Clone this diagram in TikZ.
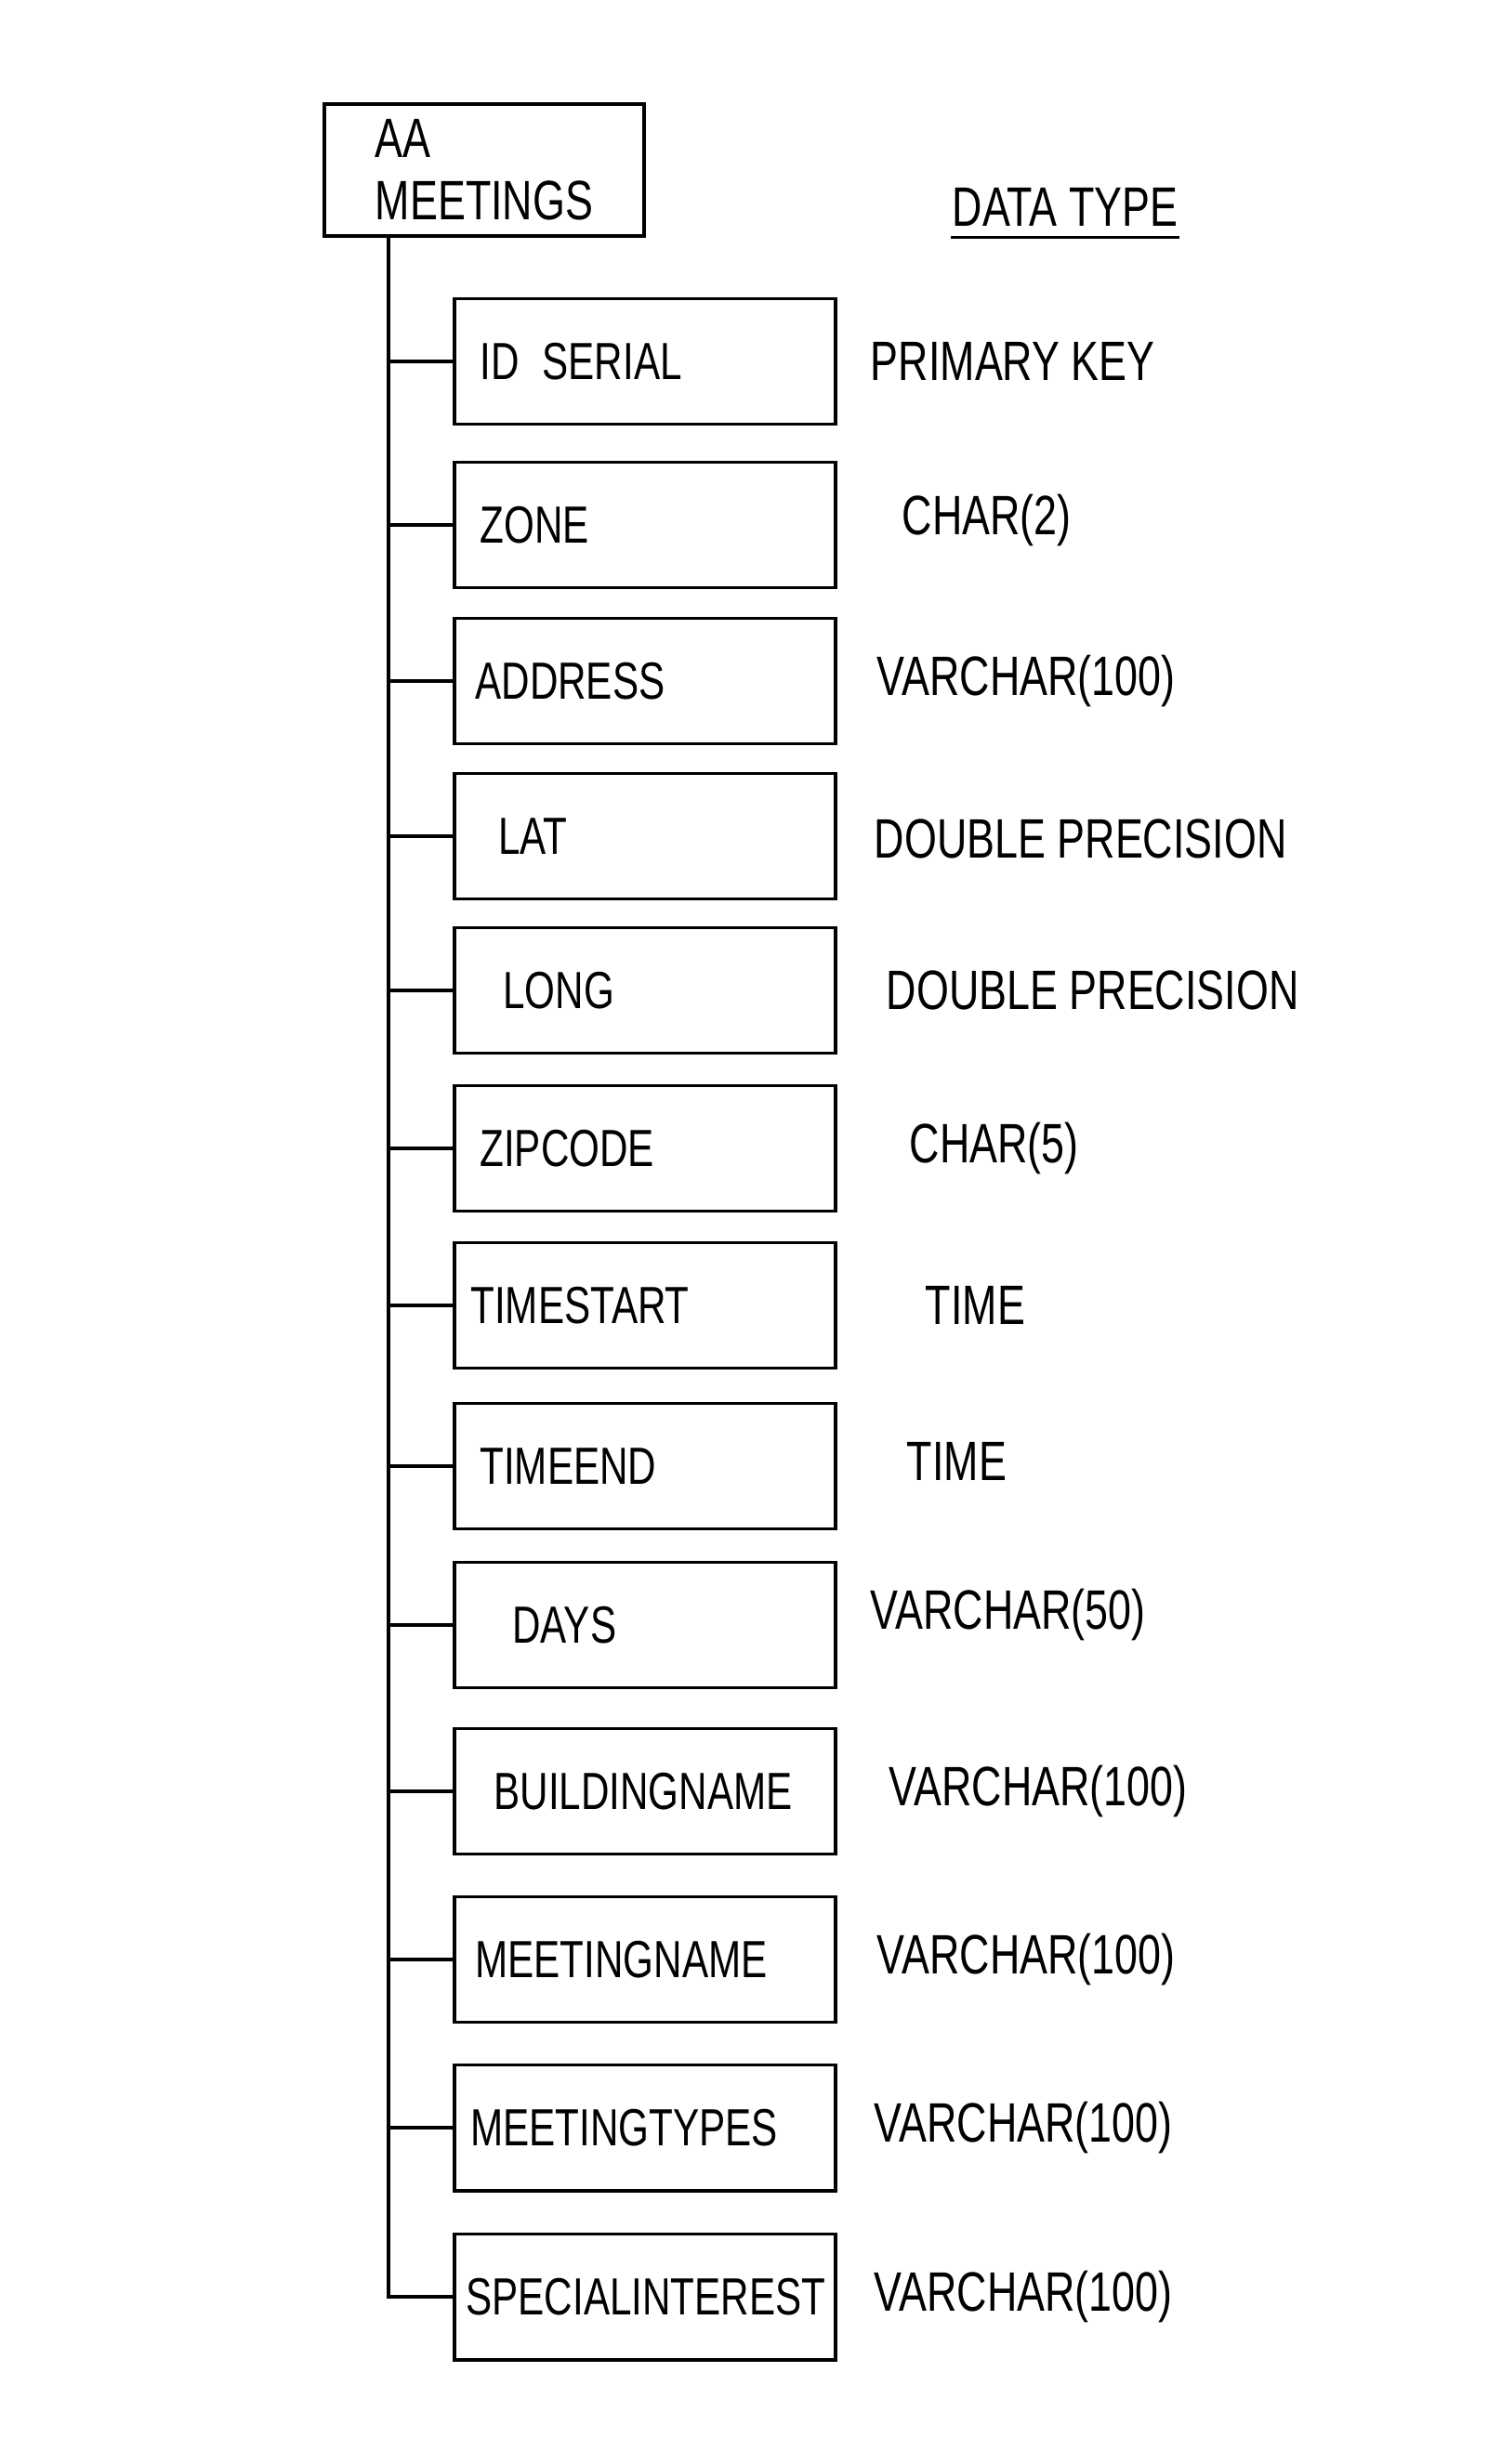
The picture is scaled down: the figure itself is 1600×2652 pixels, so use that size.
\documentclass[tikz,border=0pt]{standalone}
\usepackage{fontspec}
\setmainfont{Liberation Sans}[FakeStretch=0.75]
\begin{document}
\begin{tikzpicture}[x=0.01cm, y=-0.01cm, line width=1.1pt,
    fieldbox/.style={draw, text width=3.85cm, inner xsep=0.12cm, minimum height=1.35cm, align=left, font=\fontsize{16}{19}\selectfont},
    rootbox/.style={draw, minimum width=3.43cm, minimum height=1.42cm, align=left, font=\fontsize{17}{19}\selectfont},
    typelabel/.style={anchor=west, inner sep=0pt, font=\fontsize{17}{20}\selectfont}]
    \useasboundingbox (0,0) rectangle (1600,2652);
    \node[rootbox] (aa) at (521,183) {AA\\MEETINGS};
    \node[typelabel] (dt) at (1023,223) {DATA TYPE};
    \draw ([yshift=-0.1cm]dt.south west) -- ([yshift=-0.1cm]dt.south east);
    \node[fieldbox] (id) at (694,389) {\hspace{0.15cm}ID\hspace{0.25cm}SERIAL};
    \node[fieldbox] (zone) at (694,565) {\hspace{0.15cm}ZONE};
    \node[fieldbox] (address) at (694,733) {\hspace{0.1cm}ADDRESS};
    \node[fieldbox] (lat) at (694,900) {\hspace{0.35cm}LAT};
    \node[fieldbox] (long) at (694,1066) {\hspace{0.4cm}LONG};
    \node[fieldbox] (zip) at (694,1236) {\hspace{0.15cm}ZIPCODE};
    \node[fieldbox] (tstart) at (694,1405) {\hspace{0.05cm}TIMESTART};
    \node[fieldbox] (tend) at (694,1578) {\hspace{0.15cm}TIMEEND};
    \node[fieldbox] (days) at (694,1749) {\hspace{0.5cm}DAYS};
    \node[fieldbox] (bname) at (694,1928) {\hspace{0.3cm}BUILDINGNAME};
    \node[fieldbox] (mname) at (694,2109) {\hspace{0.1cm}MEETINGNAME};
    \node[fieldbox] (mtypes) at (694,2290) {\hspace{0.05cm}MEETINGTYPES};
    \node[fieldbox] (special) at (694,2472) {SPECIALINTEREST};
    \node[typelabel] (id_t) at (935,389) {PRIMARY KEY};
    \node[typelabel] (zone_t) at (969,560) {CHAR(2)};
    \node[typelabel] (address_t) at (942,733) {VARCHAR(100)};
    \node[typelabel] (lat_t) at (939,903) {DOUBLE PRECISION};
    \node[typelabel] (long_t) at (952,1066) {DOUBLE PRECISION};
    \node[typelabel] (zip_t) at (977,1236) {CHAR(5)};
    \node[typelabel] (tstart_t) at (994,1405) {TIME};
    \node[typelabel] (tend_t) at (974,1573) {TIME};
    \node[typelabel] (days_t) at (935,1738) {VARCHAR(50)};
    \node[typelabel] (bname_t) at (955,1928) {VARCHAR(100)};
    \node[typelabel] (mname_t) at (942,2109) {VARCHAR(100)};
    \node[typelabel] (mtypes_t) at (939,2290) {VARCHAR(100)};
    \node[typelabel] (special_t) at (939,2472) {VARCHAR(100)};
    \coordinate (trunk) at ([xshift=-1.03cm]aa.south);
    \draw (trunk) |- (special.west);
    \draw (trunk |- id.west) -- (id.west);
    \draw (trunk |- zone.west) -- (zone.west);
    \draw (trunk |- address.west) -- (address.west);
    \draw (trunk |- lat.west) -- (lat.west);
    \draw (trunk |- long.west) -- (long.west);
    \draw (trunk |- zip.west) -- (zip.west);
    \draw (trunk |- tstart.west) -- (tstart.west);
    \draw (trunk |- tend.west) -- (tend.west);
    \draw (trunk |- days.west) -- (days.west);
    \draw (trunk |- bname.west) -- (bname.west);
    \draw (trunk |- mname.west) -- (mname.west);
    \draw (trunk |- mtypes.west) -- (mtypes.west);
\end{tikzpicture}
\end{document}
